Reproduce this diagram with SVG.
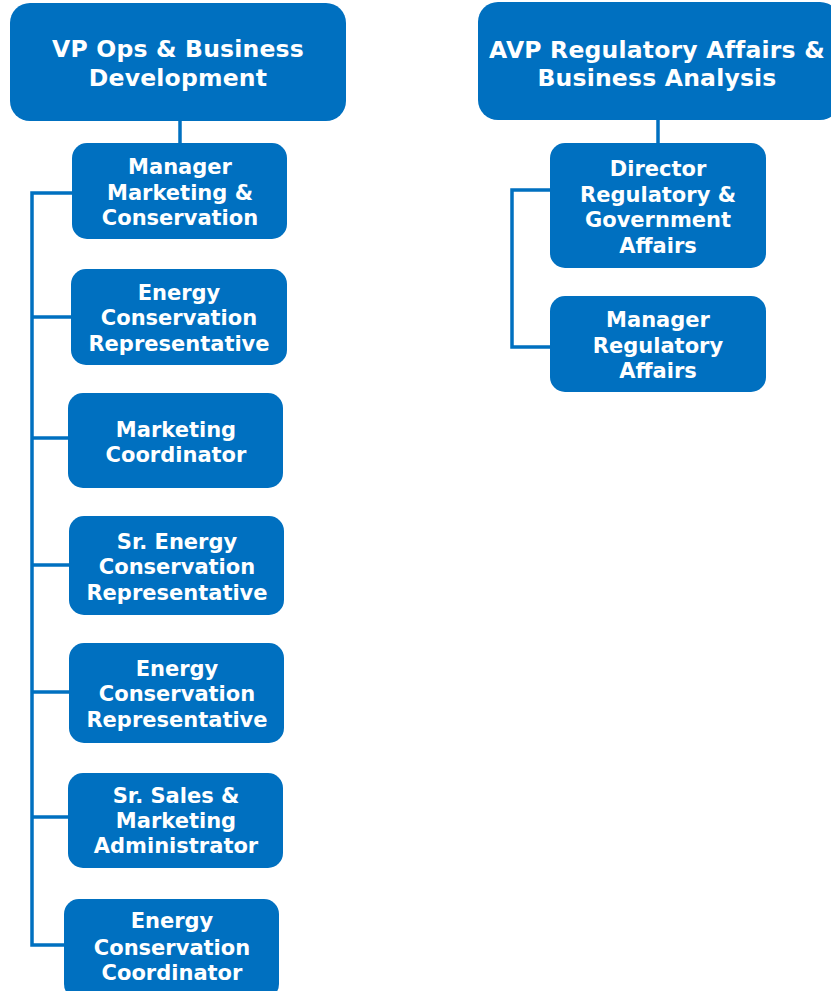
<svg xmlns="http://www.w3.org/2000/svg" width="831" height="991" viewBox="0 0 831 991">
  <style>
    .box { fill: #0070C0; }
    .lbl { font-family: "DejaVu Sans", Verdana, sans-serif; font-weight: bold; fill: #FFFFFF; text-anchor: middle; font-size: 21px; }
    .top.lbl { font-size: 23.5px; letter-spacing: 0.2px; }
    .wire { fill: none; stroke: #0070C0; stroke-width: 3.5; }
  </style>

  <!-- connectors -->
  <g id="connectors">
    <path class="wire" d="M180 121 V143"/>
    <path class="wire" d="M72 193 H32 V945 H64"/>
    <path class="wire" d="M32 317 H71"/>
    <path class="wire" d="M32 438 H68"/>
    <path class="wire" d="M32 565 H69"/>
    <path class="wire" d="M32 692 H69"/>
    <path class="wire" d="M32 817 H68"/>
    <path class="wire" d="M658 120 V143"/>
    <path class="wire" d="M550 190 H512 V347 H550"/>
  </g>

  <!-- left branch -->
  <g id="vp-ops">
    <rect class="box" x="10" y="3" width="336" height="118" rx="20"/>
    <text class="lbl top" x="178" y="57">VP Ops &amp; Business</text>
    <text class="lbl top" x="178" y="86">Development</text>
  </g>
  <g id="mgr-marketing">
    <rect class="box" x="72" y="143" width="215" height="96" rx="15"/>
    <text class="lbl" x="180" y="174">Manager</text>
    <text class="lbl" x="180" y="200">Marketing &amp;</text>
    <text class="lbl" x="180" y="225">Conservation</text>
  </g>
  <g id="ecr-1">
    <rect class="box" x="71" y="269" width="216" height="96" rx="15"/>
    <text class="lbl" x="179" y="300">Energy</text>
    <text class="lbl" x="179" y="325">Conservation</text>
    <text class="lbl" x="179" y="351">Representative</text>
  </g>
  <g id="mkt-coord">
    <rect class="box" x="68" y="393" width="215" height="95" rx="15"/>
    <text class="lbl" x="176" y="437">Marketing</text>
    <text class="lbl" x="176" y="462">Coordinator</text>
  </g>
  <g id="sr-ecr">
    <rect class="box" x="69" y="516" width="215" height="99" rx="15"/>
    <text class="lbl" x="177" y="549">Sr. Energy</text>
    <text class="lbl" x="177" y="574">Conservation</text>
    <text class="lbl" x="177" y="600">Representative</text>
  </g>
  <g id="ecr-2">
    <rect class="box" x="69" y="643" width="215" height="100" rx="15"/>
    <text class="lbl" x="177" y="676">Energy</text>
    <text class="lbl" x="177" y="701">Conservation</text>
    <text class="lbl" x="177" y="727">Representative</text>
  </g>
  <g id="sr-sales">
    <rect class="box" x="68" y="773" width="215" height="95" rx="15"/>
    <text class="lbl" x="176" y="803">Sr. Sales &amp;</text>
    <text class="lbl" x="176" y="828">Marketing</text>
    <text class="lbl" x="176" y="853">Administrator</text>
  </g>
  <g id="ec-coord">
    <rect class="box" x="64" y="899" width="215" height="100" rx="15"/>
    <text class="lbl" x="172" y="928">Energy</text>
    <text class="lbl" x="172" y="955">Conservation</text>
    <text class="lbl" x="172" y="980">Coordinator</text>
  </g>

  <!-- right branch -->
  <g id="avp-reg">
    <rect class="box" x="478" y="2" width="362" height="118" rx="20"/>
    <text class="lbl top" x="657" y="58">AVP Regulatory Affairs &amp;</text>
    <text class="lbl top" x="657" y="86">Business Analysis</text>
  </g>
  <g id="dir-reg">
    <rect class="box" x="550" y="143" width="216" height="125" rx="15"/>
    <text class="lbl" x="658" y="176">Director</text>
    <text class="lbl" x="658" y="202">Regulatory &amp;</text>
    <text class="lbl" x="658" y="227">Government</text>
    <text class="lbl" x="658" y="253">Affairs</text>
  </g>
  <g id="mgr-reg">
    <rect class="box" x="550" y="296" width="216" height="96" rx="15"/>
    <text class="lbl" x="658" y="327">Manager</text>
    <text class="lbl" x="658" y="353">Regulatory</text>
    <text class="lbl" x="658" y="378">Affairs</text>
  </g>
</svg>
